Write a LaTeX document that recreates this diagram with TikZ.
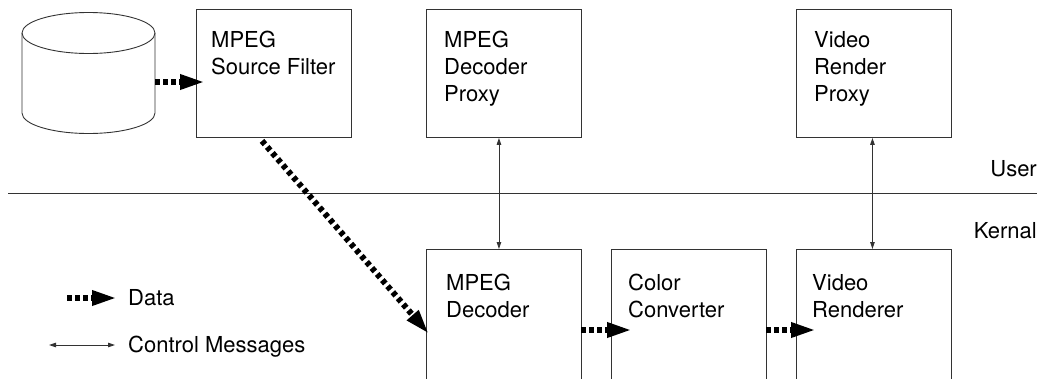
\documentclass[tikz,border=0pt]{standalone}
\usepackage{fontspec}
\setmainfont{TeX Gyre Heros}
\usetikzlibrary{arrows.meta,calc}
\begin{document}
\begin{tikzpicture}[x=1pt,y=-1pt,
  thinline/.style={draw=black!80, line width=0.9pt},
  box/.style={thinline, inner sep=0pt, anchor=north west, minimum width=155pt},
  topbox/.style={box, minimum height=128pt},
  botbox/.style={box, minimum height=160pt},
  lbl/.style={font=\fontsize{22}{27}\selectfont, align=left, inner sep=0pt},
  data/.style={line width=6pt, dash pattern=on 4.5pt off 3.5pt, -{Triangle[length=25pt,width=14pt]}},
  ctrl/.style={thinline, {Triangle[length=7pt,width=4.5pt]}-{Triangle[length=7pt,width=4.5pt]}}]
\useasboundingbox (0,0) rectangle (1044,378);
\clip (0,0) rectangle (1044,378);
% cylinder
\draw[thinline, fill=white] (22,33) -- (22,113) arc[start angle=180, end angle=0, x radius=66.5, y radius=20.5] -- (155,33);
\draw[thinline] (88.5,33) ellipse [x radius=66.5, y radius=20.5];
\coordinate (cylR) at (155,82);
% boxes
\node[topbox] (src) at (195.5,9) {};
\node[topbox] (dp) at (425.5,9) {};
\node[topbox] (vp) at (796,9) {};
\node[botbox] (dec) at (425.5,249) {};
\node[botbox] (cc) at (610.5,249) {};
\node[botbox] (vr) at (796,249) {};
% box texts (base anchor = baseline of last line)
\node[lbl, anchor=base west] (srcT) at (211,74) {MPEG\\Source Filter};
\node[lbl, anchor=base west] (dpT) at (444,101) {MPEG\\Decoder\\Proxy};
\node[lbl, anchor=base west] (vpT) at (814,101) {Video\\Render\\Proxy};
\node[lbl, anchor=base west] (decT) at (446,317) {MPEG\\Decoder};
\node[lbl, anchor=base west] (ccT) at (628,317) {Color\\Converter};
\node[lbl, anchor=base west] (vrT) at (812,317) {Video\\Renderer};
% user / kernel separator
\coordinate (s1) at (8,193);
\coordinate (s2) at (1037,193);
\draw[thinline] (s1) -- (s2);
\node[lbl, anchor=base east] (user) at (1037,176) {User};
\node[lbl, anchor=base east] (kern) at (1037,238) {Kernal};
% data flow
\draw[data] (cylR) -- ($(src.north west)+(9.5,73)$);
\draw[data] ($(src.south west)+(66.5,3)$) -- ($(dec.north west)+(3.5,85)$);
\draw[data] ($(dec.north east)+(0,81)$) -- ($(cc.north west)+(21.5,81)$);
\draw[data] ($(cc.north east)+(0,81)$) -- ($(vr.north west)+(20,81)$);
% control messages
\draw[ctrl] ($(dp.south)+(-4.5,0)$) -- ($(dec.north)+(-4.5,0)$);
\draw[ctrl] ($(vp.south)+(-1.5,0)$) -- ($(vr.north)+(-1.5,0)$);
% legend
\coordinate (ld1) at (67,298);
\coordinate (ld2) at (117,298);
\draw[data] (ld1) -- (ld2);
\node[lbl, anchor=base west] (ldT) at (128,305) {Data};
\coordinate (lc1) at (49,345);
\coordinate (lc2) at (115,345);
\draw[ctrl] (lc1) -- (lc2);
\node[lbl, anchor=base west] (lcT) at (128,352) {Control Messages};
\end{tikzpicture}
\end{document}
